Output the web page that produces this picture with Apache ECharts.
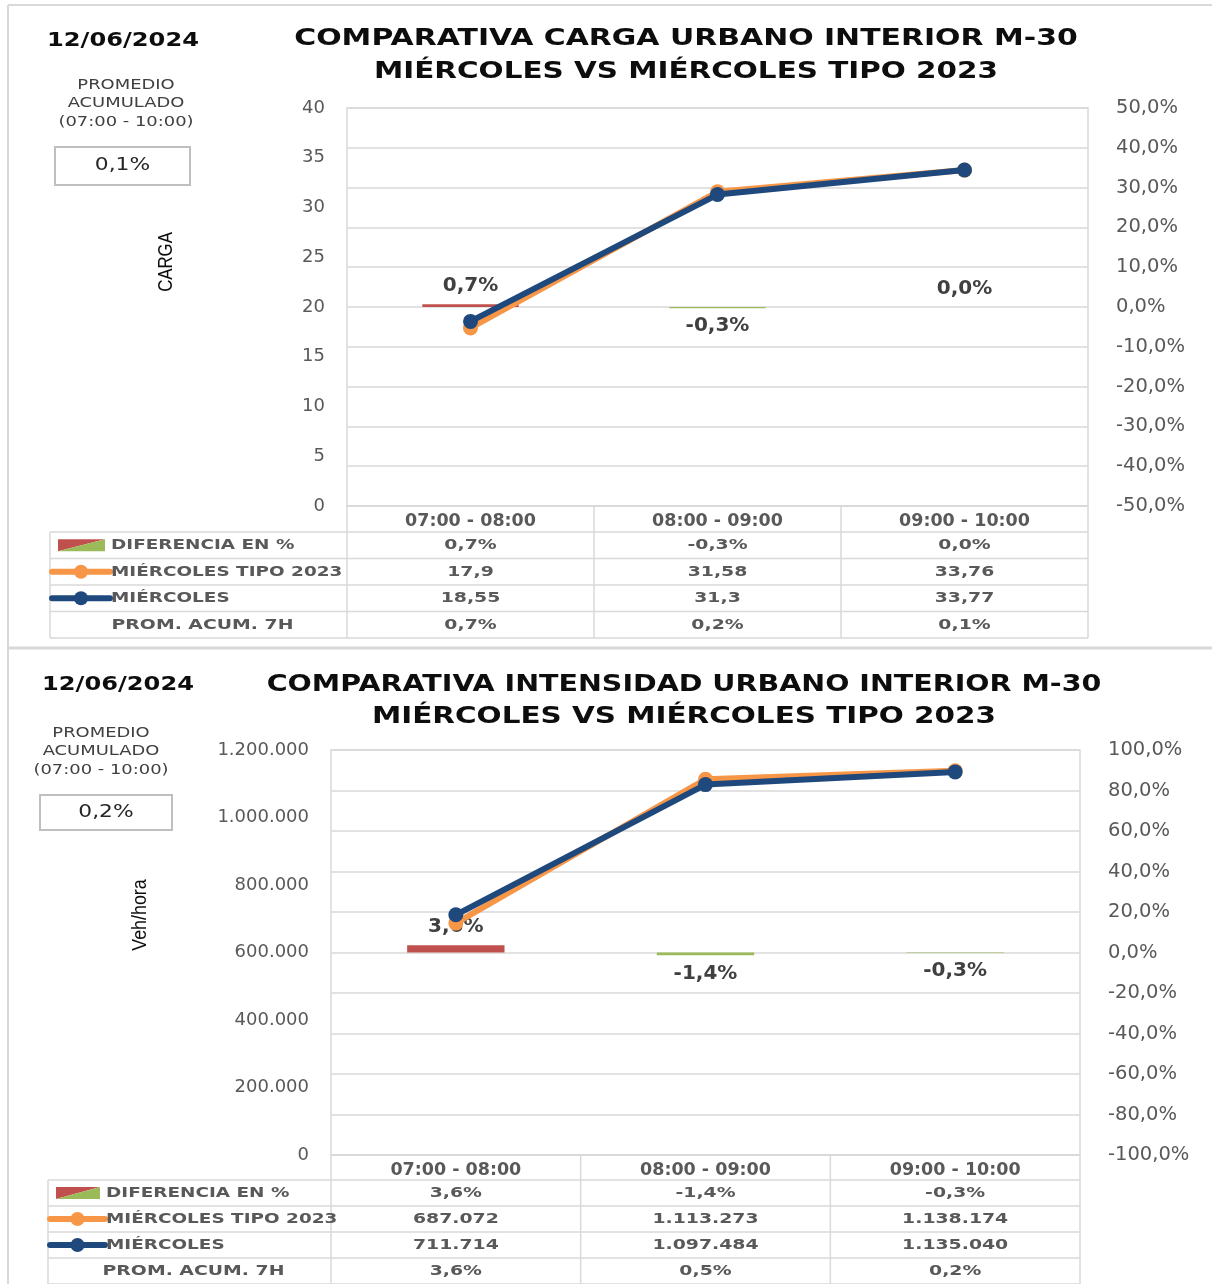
<!DOCTYPE html>
<html>
<head>
<meta charset="utf-8">
<script src="https://cdn.jsdelivr.net/npm/echarts@6/dist/echarts.min.js"></script>
<style>
  html, body { margin: 0; padding: 0; background: #fff; }
  #chart { width: 1212px; height: 1284px; }
</style>
</head>
<body>
<div id="chart"></div>
<script>
// datos
const fecha = '12/06/2024';
const franjas = ['07:00 - 08:00', '08:00 - 09:00', '09:00 - 10:00'];
const filas = ['DIFERENCIA EN %', 'MIÉRCOLES TIPO 2023', 'MIÉRCOLES', 'PROM. ACUM. 7H'];

const cargaDif = [0.007, -0.003, 0.0003];
const cargaTipo = [17.9, 31.58, 33.76];
const cargaDia = [18.55, 31.3, 33.77];
const cargaProm = [0.007, 0.002, 0.001];
const cargaEje = [0, 40, 5];
const cargaEjePct = [-0.5, 0.5, 0.1];

const intDif = [0.036, -0.014, -0.003];
const intTipo = [687072, 1113273, 1138174];
const intDia = [711714, 1097484, 1135040];
const intProm = [0.036, 0.005, 0.002];
const intEje = [0, 1200000, 200000];
const intEjePct = [-1, 1, 0.2];

const FONT = 'DejaVu Sans';
const GRIS = '#595959';
const LINEA = '#d9d9d9';
const ROJO = '#c0504d';
const VERDE = '#9bbb59';
const NARANJA = '#f79646';
const AZUL = '#1f497d';

function pct(v) { return (v * 100).toFixed(1).replace('.', ',') + '%'; }
function miles(v) { return String(Math.round(v)).replace(/\B(?=(\d{3})+(?!\d))/g, '.'); }
function decimal(v) { return String(v).replace('.', ','); }

const paneles = [
  {
    titulo: ['COMPARATIVA CARGA URBANO INTERIOR M-30', 'MIÉRCOLES VS MIÉRCOLES TIPO 2023'],
    ejeY: 'CARGA', dif: cargaDif, tipo: cargaTipo, dia: cargaDia, prom: cargaProm,
    eje: cargaEje, ejePct: cargaEjePct, fmtValor: decimal, fmtEje: v => String(v),
    grid: { left: 347, top: 108, width: 741, height: 398 },
    tituloX: 686, tituloY: [39, 72], tituloSx: [1.3, 1.28], fechaPos: [123, 41],
    promX: 126, promY: [85, 103, 122], caja: [55, 147, 135, 38],
    ejeYPos: [166, 262], ejeYSx: 0.8, tablaIzq: 50, filaY: 532, filaH: 26.5,
    simb: [52, 110], textoX: 111
  },
  {
    titulo: ['COMPARATIVA INTENSIDAD URBANO INTERIOR M-30', 'MIÉRCOLES VS MIÉRCOLES TIPO 2023'],
    ejeY: 'Veh/hora', dif: intDif, tipo: intTipo, dia: intDia, prom: intProm,
    eje: intEje, ejePct: intEjePct, fmtValor: miles, fmtEje: miles,
    grid: { left: 331, top: 750, width: 749, height: 405 },
    tituloX: 684, tituloY: [685, 717], tituloSx: [1.24, 1.28], fechaPos: [118, 685],
    promX: 101, promY: [733, 751, 770], caja: [40, 795, 132, 35],
    ejeYPos: [140, 915], ejeYSx: 0.85, tablaIzq: 48, filaY: 1180, filaH: 26,
    simb: [50, 105], textoX: 106
  }
];

const chart = echarts.init(document.getElementById('chart'));

const grid = [], xAxis = [], yAxis = [], series = [];
paneles.forEach((p, i) => {
  grid.push(Object.assign({ show: true, borderColor: LINEA, borderWidth: 1.5, backgroundColor: 'transparent' }, p.grid));
  xAxis.push({
    type: 'category', gridIndex: i, data: franjas,
    axisLine: { show: true, lineStyle: { color: LINEA, width: 1.5 } },
    axisTick: { show: false },
    axisLabel: { margin: 6, fontFamily: FONT, fontWeight: 'bold', fontSize: 17.5, color: GRIS }
  });
  yAxis.push({
    type: 'value', gridIndex: i, position: 'left',
    min: p.eje[0], max: p.eje[1], interval: p.eje[2],
    splitLine: { show: false }, axisLine: { show: false }, axisTick: { show: false },
    axisLabel: { margin: 22, fontFamily: FONT, fontSize: 18, color: GRIS, formatter: p.fmtEje }
  });
  yAxis.push({
    type: 'value', gridIndex: i, position: 'right',
    min: p.ejePct[0], max: p.ejePct[1], interval: p.ejePct[2],
    splitLine: { show: true, lineStyle: { color: LINEA, width: 1.5 } },
    axisLine: { show: false }, axisTick: { show: false },
    axisLabel: { margin: 28, fontFamily: FONT, fontSize: 19.5, color: GRIS, formatter: v => pct(v) }
  });
  series.push({
    type: 'bar', name: filas[0], xAxisIndex: i, yAxisIndex: 2 * i + 1, barWidth: '39%',
    data: p.dif.map(v => ({
      value: v,
      itemStyle: { color: v >= 0 ? ROJO : VERDE },
      label: { position: v >= 0 ? 'top' : 'bottom' }
    })),
    label: {
      show: true, distance: 8, formatter: d => pct(d.value),
      fontFamily: FONT, fontWeight: 'bold', fontSize: 20, color: '#404040'
    },
    z: 2
  });
  series.push({
    type: 'line', name: filas[1], xAxisIndex: i, yAxisIndex: 2 * i, data: p.tipo,
    symbol: 'circle', symbolSize: 15, lineStyle: { width: 6, color: NARANJA },
    itemStyle: { color: NARANJA }, z: 3
  });
  series.push({
    type: 'line', name: filas[2], xAxisIndex: i, yAxisIndex: 2 * i, data: p.dia,
    symbol: 'circle', symbolSize: 15, lineStyle: { width: 6, color: AZUL },
    itemStyle: { color: AZUL }, z: 4
  });
});

chart.setOption({ animation: false, backgroundColor: '#fff', grid, xAxis, yAxis, series });

function texto(x, y, t, o) {
  o = o || {};
  return {
    type: 'text', x: x, y: y, scaleX: o.sx == null ? 1.22 : o.sx, rotation: o.rot || 0, z: 10,
    style: {
      text: t, fontFamily: o.font || FONT, fontSize: o.size || 15, fontWeight: o.bold ? 'bold' : 'normal',
      fill: o.color || GRIS, align: o.align || 'center', verticalAlign: 'middle',
      textAlign: o.align || 'center', textVerticalAlign: 'middle'
    }
  };
}
function linea(x1, y1, x2, y2, w, c) {
  return { type: 'line', z: 5, shape: { x1, y1, x2, y2 }, style: { stroke: c || LINEA, lineWidth: w || 1.5 } };
}

const graphic = [];
// marcos
graphic.push(linea(8, 5, 1212, 5, 2));
graphic.push(linea(8, 5, 8, 1284, 2));
graphic.push(linea(8, 648, 1212, 648, 3));

paneles.forEach((p, i) => {
  const g = p.grid;
  graphic.push(texto(p.tituloX, p.tituloY[0], p.titulo[0], { size: 23, bold: true, color: '#0d0d0d', sx: p.tituloSx[0] }));
  graphic.push(texto(p.tituloX, p.tituloY[1], p.titulo[1], { size: 23, bold: true, color: '#0d0d0d', sx: p.tituloSx[1] }));
  graphic.push(texto(p.fechaPos[0], p.fechaPos[1], fecha, { size: 19, bold: true, color: '#0d0d0d', sx: 1.27 }));
  ['PROMEDIO', 'ACUMULADO', '(07:00 - 10:00)'].forEach((t, k) =>
    graphic.push(texto(p.promX, p.promY[k], t, { size: 14, color: '#404040', sx: 1.28 })));
  const c = p.caja;
  graphic.push({ type: 'rect', z: 5, shape: { x: c[0], y: c[1], width: c[2], height: c[3] },
    style: { fill: '#fff', stroke: '#bfbfbf', lineWidth: 2 } });
  graphic.push(texto(c[0] + c[2] / 2, c[1] + c[3] / 2, pct(p.prom[p.prom.length - 1]), { size: 17, color: '#262626', sx: 1.28 }));
  graphic.push(texto(p.ejeYPos[0], p.ejeYPos[1], p.ejeY,
    { font: 'Liberation Sans', size: 21, color: '#0d0d0d', sx: p.ejeYSx, rot: Math.PI / 2 }));

  // tabla
  const centros = franjas.map(f => chart.convertToPixel({ xAxisIndex: i }, f));
  const banda = centros[1] - centros[0];
  const bordes = [centros[0] - banda / 2].concat(centros.map(x => x + banda / 2));
  const fondo = p.filaY + p.filaH * 4;
  for (let r = 0; r <= 4; r++) {
    const y = p.filaY + p.filaH * r;
    graphic.push(linea(p.tablaIzq, y, bordes[3], y));
  }
  graphic.push(linea(p.tablaIzq, p.filaY, p.tablaIzq, fondo));
  bordes.forEach(x => graphic.push(linea(x, g.top + g.height, x, fondo)));

  const valores = [p.dif.map(pct), p.tipo.map(p.fmtValor), p.dia.map(p.fmtValor), p.prom.map(pct)];
  valores.forEach((fila, r) => {
    const y = p.filaY + p.filaH * (r + 0.5);
    fila.forEach((v, j) => graphic.push(texto(centros[j], y, v, { size: 14.5, bold: true, sx: 1.3 })));
    if (r < 3) {
      graphic.push(texto(p.textoX, y, filas[r], { size: 14.5, bold: true, align: 'left', sx: 1.27 }));
    } else {
      graphic.push(texto((p.tablaIzq + bordes[0]) / 2 + 4, y, filas[r], { size: 14.5, bold: true, sx: 1.3 }));
    }
  });
  // simbolos de leyenda
  const s = p.simb;
  const y0 = p.filaY + p.filaH * 0.5;
  const sx0 = s[0] + 6, sx1 = s[1] - 5;
  graphic.push({ type: 'polygon', z: 6, shape: { points: [[sx0, y0 - 6], [sx1, y0 - 6], [sx0, y0 + 6]] }, style: { fill: ROJO } });
  graphic.push({ type: 'polygon', z: 6, shape: { points: [[sx1, y0 - 6], [sx1, y0 + 6], [sx0, y0 + 6]] }, style: { fill: VERDE } });
  [[1, NARANJA], [2, AZUL]].forEach(([r, col]) => {
    const y = p.filaY + p.filaH * (r + 0.5);
    graphic.push({ type: 'line', z: 6, shape: { x1: s[0], y1: y, x2: s[1], y2: y },
      style: { stroke: col, lineWidth: 6, lineCap: 'round' } });
    graphic.push({ type: 'circle', z: 7, shape: { cx: (s[0] + s[1]) / 2, cy: y, r: 7 }, style: { fill: col } });
  });
});

chart.setOption({ graphic });
</script>
</body>
</html>
